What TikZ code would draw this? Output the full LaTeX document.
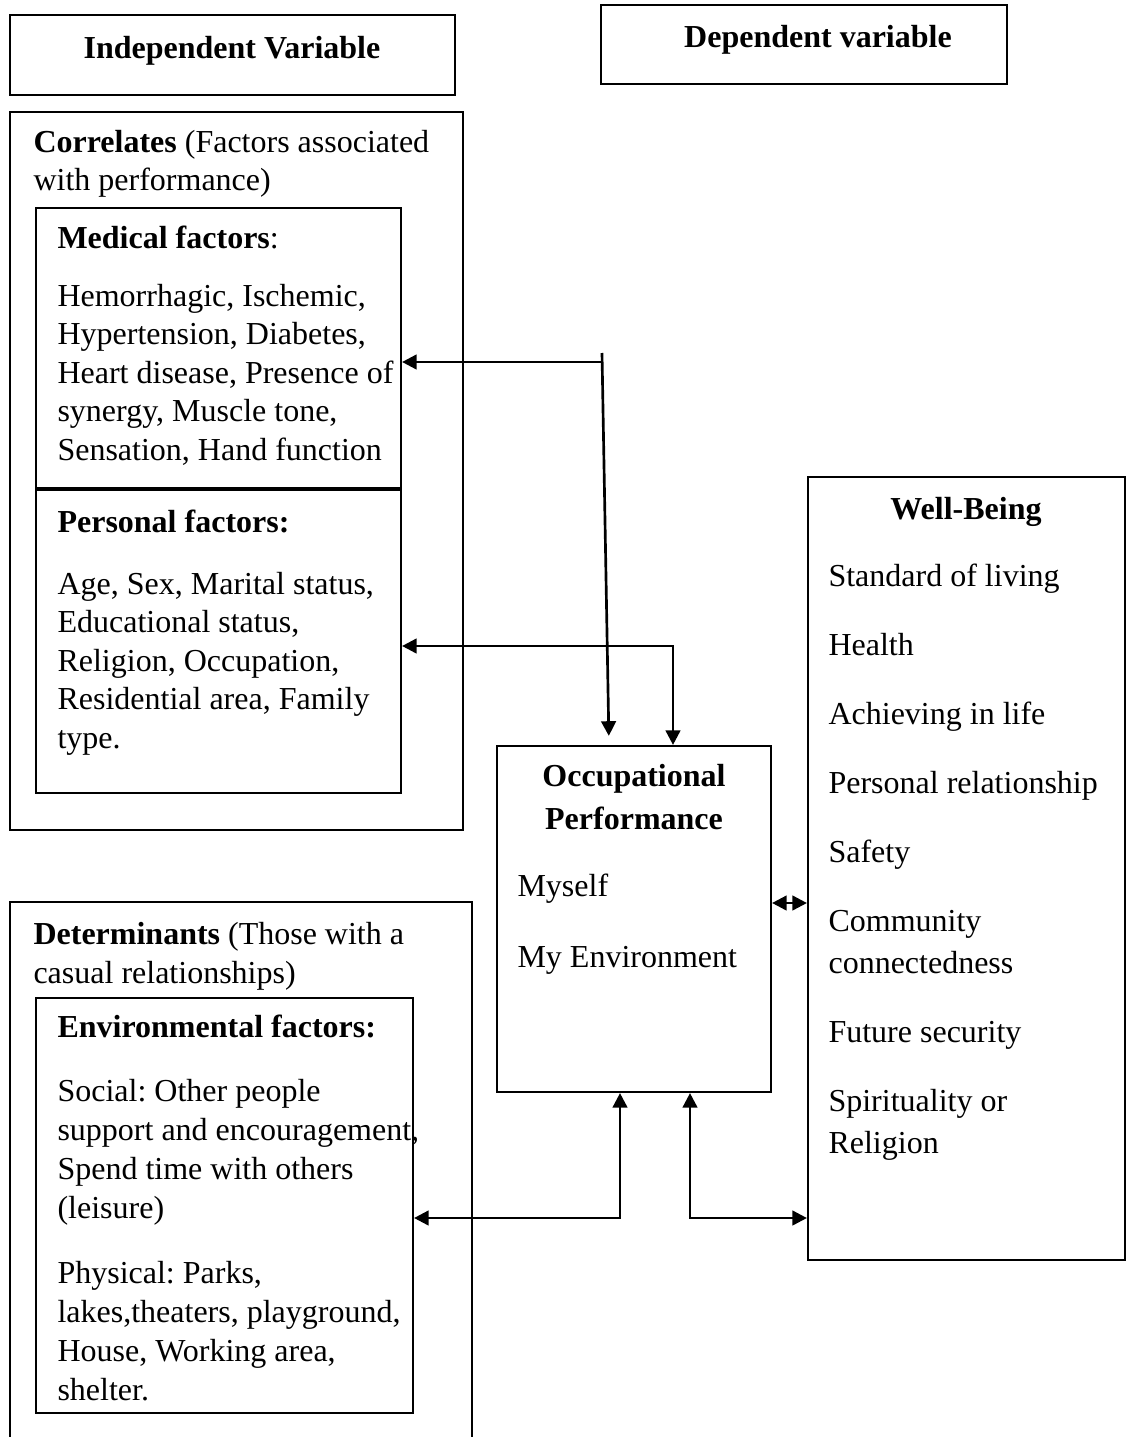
\documentclass[tikz,border=0pt]{standalone}
\usepackage{fontspec}
\setmainfont{Liberation Serif}
\usetikzlibrary{arrows.meta,fit,positioning}

\tikzset{
  box/.style={draw, line width=0.8pt, inner sep=0pt},
  txt/.style={anchor=base west, inner sep=0pt, align=left, font=\fontsize{12}{14.4}\selectfont\frenchspacing},
  head/.style={anchor=base, inner sep=0pt, align=center, font=\fontsize{12}{16}\selectfont\bfseries},
  arr/.style={line width=1pt, -{Triangle[length=5.5pt,width=5.5pt]}},
  arrs/.style={line width=1pt, {Triangle[length=5.5pt,width=5.5pt]}-{Triangle[length=5.5pt,width=5.5pt]}},
}

\begin{document}
\begin{tikzpicture}[x=0.375pt, y=-0.375pt]
    \useasboundingbox (0,0) rectangle (1129,1437);

    % boxes
    \node[box, fit={(10,15) (455,95)}] (indep) {};
    \node[box, fit={(601,5) (1007,84)}] (dep) {};
    \node[box, fit={(10,112) (463,830)}] (corrbox) {};
    \node[box, fit={(36,208) (401,488)}] (med) {};
    \node[box, fit={(36,490) (401,793)}] (per) {};
    \node[box, fit={(36,998) (413,1413)}] (env) {};
    \node[box, fit={(497,746) (771,1092)}] (occ) {};
    \node[box, fit={(808,477) (1125,1260)}] (wb) {};
    \draw[line width=0.8pt] (10,1437) -- (10,902) -- (472,902) -- (472,1437);

    % texts (multi-line nodes sit on their last baseline)
    \node[head] (indt) at (232,59) {Independent Variable};
    \node[head] (dept) at (818,48) {Dependent variable};
    \node[txt] (corr) at (33,191) {\textbf{Correlates} (Factors associated\\with performance)};
    \node[txt] (medh) at (57,249) {\textbf{Medical factors}:};
    \node[txt] (medt) at (57,460) {Hemorrhagic, Ischemic,\\Hypertension, Diabetes,\\Heart disease, Presence of\\synergy, Muscle tone,\\Sensation, Hand function};
    \node[txt] (perh) at (57,532) {\textbf{Personal factors:}};
    \node[txt] (pert) at (57,748) {Age, Sex, Marital status,\\Educational status,\\Religion, Occupation,\\Residential area, Family\\type.};
    \node[head] (occh) at (634,829) {Occupational\\Performance};
    \node[txt] (occt) at (517,967) {Myself\\[11.9pt]My Environment};
    \node[head] (wbh) at (966,519) {Well-Being};
    \node[txt, font=\fontsize{12}{15.6}\selectfont] (wbt) at (828,1153) {Standard of living\\[10.3pt]Health\\[10.3pt]Achieving in life\\[10.3pt]Personal relationship\\[10.3pt]Safety\\[10.3pt]Community\\connectedness\\[10.3pt]Future security\\[10.3pt]Spirituality or\\Religion};
    \node[txt] (deth) at (33,983) {\textbf{Determinants} (Those with a\\casual relationships)};
    \node[txt] (envh) at (57,1037) {\textbf{Environmental factors:}};
    \node[txt, font=\fontsize{12}{14.6}\selectfont\frenchspacing] (envt) at (57,1400) {Social: Other people\\support and encouragement,\\Spend time with others\\(leisure)\\[9.8pt]Physical: Parks,\\lakes,theaters, playground,\\House, Working area,\\shelter.};

    % arrows
    \coordinate (k0) at (602,353);
    \coordinate (k1) at (602,362);
    \coordinate (k6) at (609,737);
    \coordinate (k2) at (673,646);
    \coordinate (k3) at (620,1218);
    \coordinate (k4) at (690,1218);
    \coordinate (k5) at (790,903);

    \draw[arr] (k1) -- (med.east |- k1);
    \draw[arr, shorten >=3.4pt] (k0) -- (occ.north -| k6);
    \draw[arrs] (per.east |- k2) -- (k2) -- (occ.north -| k2);
    \draw[arrs] (env.east |- k3) -- (k3) -- (occ.south -| k3);
    \draw[arrs] (occ.south -| k4) -- (k4) -- (wb.west |- k4);
    \draw[arrs] (occ.east |- k5) -- (wb.west |- k5);
\end{tikzpicture}
\end{document}
